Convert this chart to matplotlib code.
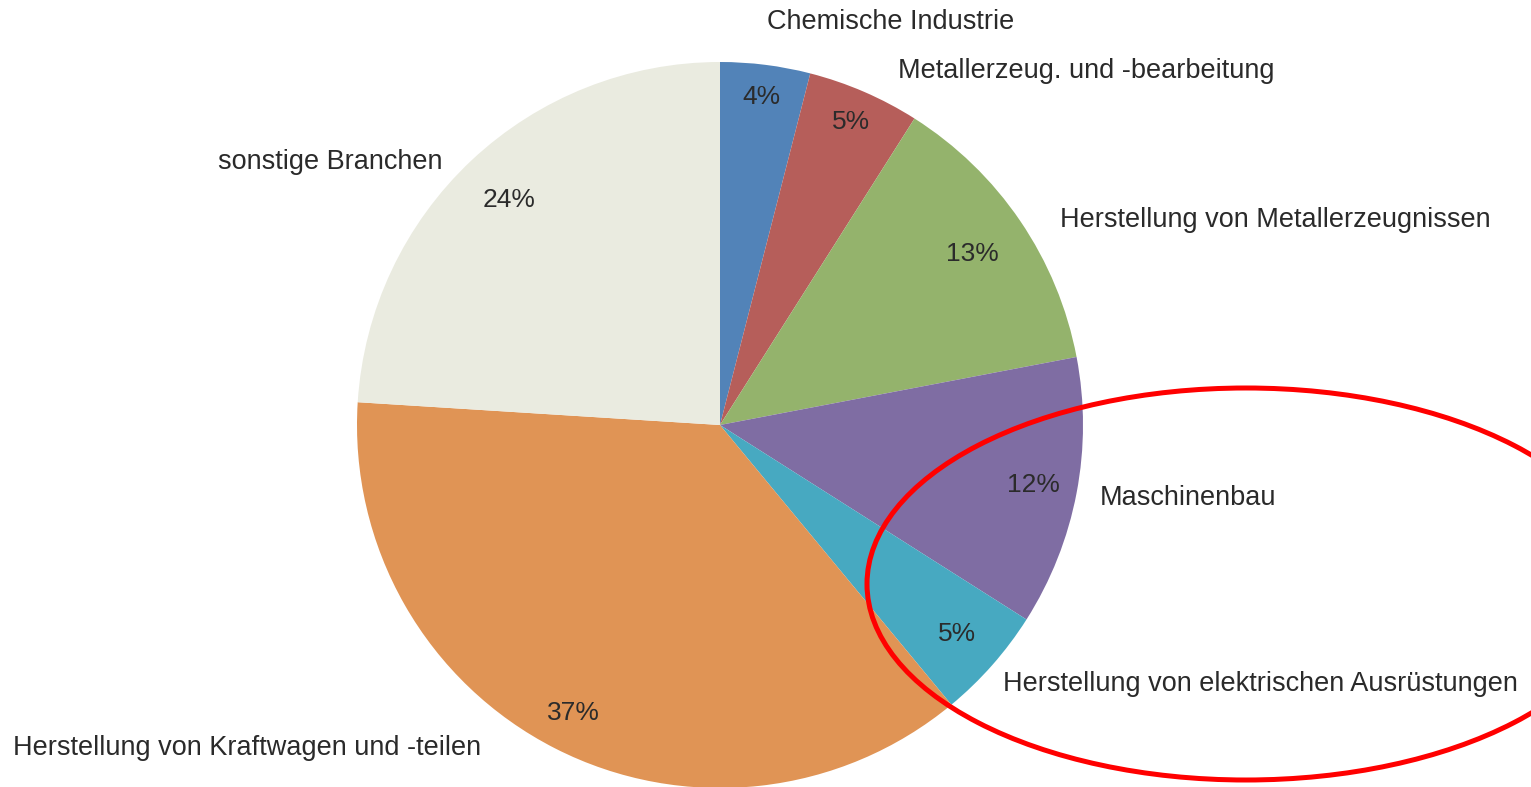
import numpy as np
import matplotlib.pyplot as plt
from matplotlib.patches import Ellipse

plt.rcParams['font.family'] = ['Liberation Sans Narrow', 'Liberation Sans', 'DejaVu Sans']

# Anteile (%) im Uhrzeigersinn ab 12 Uhr
branchen = ['Chemische Industrie', 'Metallerzeug. und -bearbeitung',
            'Herstellung von Metallerzeugnissen', 'Maschinenbau',
            'Herstellung von elektrischen Ausrüstungen',
            'Herstellung von Kraftwagen und -teilen', 'sonstige Branchen']
anteile = [4, 5, 13, 12, 5, 37, 24]
farben = ['#5283B8', '#B65E5A', '#94B36C', '#7F6DA3', '#47A9C1', '#E09455', '#EAEBE0']

# Beschriftungspositionen (Pixel, linke Kante / Mitte)
label_pos = [(767, 22), (898, 71), (1060, 220), (1100, 498),
             (1003, 684), (13, 748), (218, 162)]
# relativer Abstand der Prozentwerte vom Mittelpunkt
pct_dist = [0.91, 0.91, 0.84, 0.88, 0.87, 0.89, 0.85]

W, H = 1531, 787
fig = plt.figure(figsize=(W / 100, H / 100), dpi=100)
ax = fig.add_axes([0, 0, 1, 1])
ax.set_xlim(0, W)
ax.set_ylim(0, H)
ax.set_aspect('equal')
ax.axis('off')

cx, cy, r = 720, H - 425, 363
wedges, texts, autotexts = ax.pie(
    anteile, colors=farben, startangle=90, counterclock=False,
    center=(cx, cy), radius=r, autopct='%d%%', pctdistance=0.88,
    textprops={'fontsize': 19, 'color': '#2b2b2b'},
    wedgeprops={'linewidth': 0})

for w, t, d in zip(wedges, autotexts, pct_dist):
    ang = np.deg2rad((w.theta1 + w.theta2) / 2)
    t.set_position((cx + d * r * np.cos(ang), cy + d * r * np.sin(ang)))

for name, (x, y) in zip(branchen, label_pos):
    ax.text(x, H - y, name, fontsize=19.5, color='#2a2a2a', ha='left', va='center')

ax.set_xlim(0, W)
ax.set_ylim(0, H)

ell = Ellipse((1246, H - 584), 758, 392, fill=False, edgecolor='#ff0000', linewidth=3.6)
ax.add_patch(ell)

fig.savefig('out.png', dpi=100)
